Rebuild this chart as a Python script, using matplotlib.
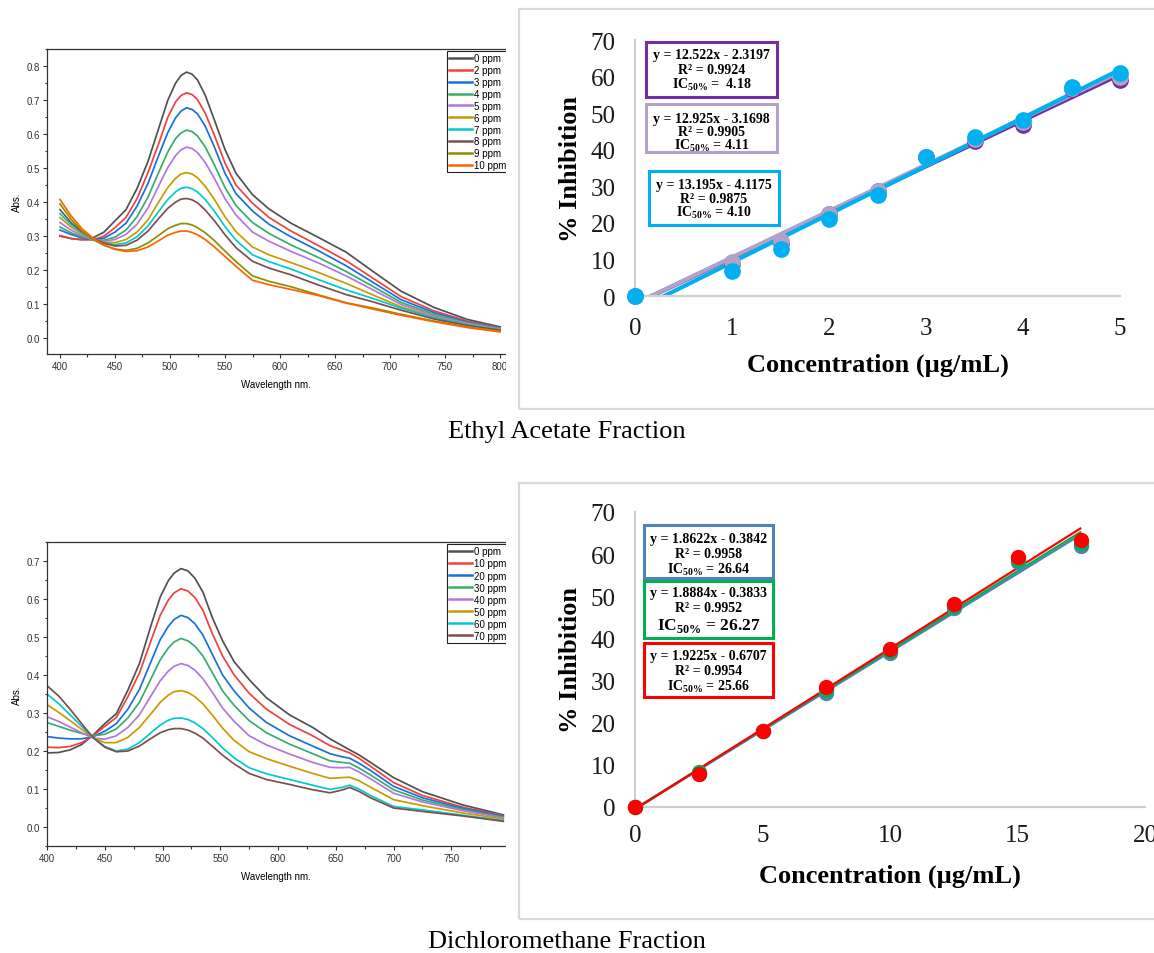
import numpy as np
import matplotlib
matplotlib.use('Agg')
import matplotlib.pyplot as plt
from matplotlib.patches import Rectangle
from matplotlib.ticker import MultipleLocator

plt.rcParams['mathtext.fontset'] = 'custom'
plt.rcParams['mathtext.rm'] = 'Liberation Serif'
plt.rcParams['mathtext.bf'] = 'Liberation Serif:bold'

# ---------------- data: Ethyl acetate UV-Vis spectra ----------------
ea_wl = [400, 410, 420, 430, 440, 450, 460, 470, 480, 490, 498, 505, 510, 515, 520,
         525, 532, 540, 550, 560, 575, 590, 610, 635, 660, 685, 710, 740, 770, 800]
ea_labels = ['0 ppm', '2 ppm', '3 ppm', '4 ppm', '5 ppm', '6 ppm', '7 ppm',
             '8 ppm', '9 ppm', '10 ppm']
ea_0 = [0.300, 0.293, 0.290, 0.295, 0.312, 0.345, 0.378, 0.440, 0.520, 0.620, 0.700, 0.750, 0.773, 0.783, 0.777, 0.760, 0.715, 0.645, 0.555, 0.485, 0.422, 0.380, 0.338, 0.296, 0.253, 0.195, 0.138, 0.090, 0.055, 0.033]
ea_2 = [0.302, 0.293, 0.289, 0.289, 0.300, 0.325, 0.355, 0.410, 0.487, 0.575, 0.650, 0.695, 0.714, 0.722, 0.717, 0.702, 0.662, 0.600, 0.515, 0.450, 0.397, 0.355, 0.315, 0.272, 0.228, 0.175, 0.122, 0.080, 0.050, 0.030]
ea_3 = [0.318, 0.305, 0.295, 0.290, 0.294, 0.312, 0.338, 0.388, 0.455, 0.540, 0.605, 0.648, 0.668, 0.678, 0.673, 0.660, 0.624, 0.565, 0.485, 0.425, 0.374, 0.335, 0.298, 0.257, 0.213, 0.163, 0.113, 0.075, 0.047, 0.029]
ea_4 = [0.327, 0.310, 0.298, 0.290, 0.288, 0.297, 0.318, 0.357, 0.415, 0.490, 0.548, 0.587, 0.604, 0.612, 0.608, 0.595, 0.563, 0.512, 0.443, 0.390, 0.340, 0.308, 0.274, 0.237, 0.196, 0.151, 0.105, 0.070, 0.045, 0.028]
ea_5 = [0.340, 0.318, 0.302, 0.290, 0.285, 0.290, 0.305, 0.335, 0.383, 0.450, 0.502, 0.537, 0.554, 0.562, 0.558, 0.546, 0.517, 0.472, 0.410, 0.362, 0.312, 0.285, 0.255, 0.221, 0.183, 0.141, 0.099, 0.066, 0.043, 0.027]
ea_6 = [0.355, 0.327, 0.307, 0.292, 0.282, 0.281, 0.290, 0.312, 0.348, 0.402, 0.443, 0.470, 0.483, 0.487, 0.483, 0.472, 0.447, 0.410, 0.357, 0.313, 0.268, 0.245, 0.222, 0.193, 0.161, 0.126, 0.092, 0.062, 0.040, 0.025]
ea_7 = [0.366, 0.334, 0.310, 0.292, 0.280, 0.275, 0.280, 0.298, 0.330, 0.374, 0.408, 0.430, 0.441, 0.444, 0.440, 0.430, 0.408, 0.375, 0.328, 0.288, 0.245, 0.225, 0.203, 0.172, 0.142, 0.116, 0.088, 0.060, 0.039, 0.024]
ea_8 = [0.378, 0.340, 0.313, 0.293, 0.279, 0.271, 0.273, 0.288, 0.315, 0.353, 0.382, 0.400, 0.409, 0.411, 0.407, 0.398, 0.377, 0.347, 0.304, 0.266, 0.226, 0.206, 0.186, 0.156, 0.128, 0.106, 0.082, 0.056, 0.037, 0.023]
ea_9 = [0.395, 0.350, 0.315, 0.290, 0.273, 0.262, 0.258, 0.264, 0.280, 0.303, 0.322, 0.332, 0.337, 0.337, 0.333, 0.325, 0.310, 0.288, 0.256, 0.225, 0.183, 0.167, 0.151, 0.127, 0.104, 0.088, 0.070, 0.050, 0.033, 0.020]
ea_10 = [0.408, 0.360, 0.322, 0.294, 0.274, 0.261, 0.255, 0.257, 0.268, 0.287, 0.303, 0.311, 0.315, 0.315, 0.311, 0.304, 0.290, 0.269, 0.240, 0.211, 0.170, 0.157, 0.143, 0.125, 0.103, 0.085, 0.067, 0.048, 0.031, 0.018]

# ---------------- data: Dichloromethane UV-Vis spectra ----------------
dcm_wl = [400, 410, 420, 430, 440, 450, 460, 470, 480, 490, 498, 505, 510, 516, 522,
          528, 535, 543, 552, 562, 575, 590, 610, 630, 645, 655, 662, 670, 680, 700,
          725, 760, 795]
dcm_labels = ['0 ppm', '10 ppm', '20 ppm', '30 ppm', '40 ppm', '50 ppm',
              '60 ppm', '70 ppm']
dcm_0 = [0.195, 0.196, 0.203, 0.217, 0.242, 0.272, 0.298, 0.360, 0.430, 0.530, 0.605, 0.648, 0.668, 0.680, 0.674, 0.655, 0.618, 0.552, 0.490, 0.435, 0.388, 0.340, 0.295, 0.262, 0.232, 0.215, 0.203, 0.190, 0.170, 0.130, 0.093, 0.058, 0.032]
dcm_10 = [0.210, 0.209, 0.212, 0.222, 0.240, 0.265, 0.288, 0.343, 0.405, 0.490, 0.557, 0.597, 0.616, 0.627, 0.621, 0.604, 0.570, 0.510, 0.450, 0.400, 0.352, 0.310, 0.270, 0.240, 0.214, 0.203, 0.195, 0.181, 0.160, 0.117, 0.083, 0.052, 0.030]
dcm_20 = [0.238, 0.234, 0.232, 0.232, 0.238, 0.252, 0.272, 0.310, 0.362, 0.435, 0.493, 0.528, 0.546, 0.557, 0.551, 0.535, 0.505, 0.455, 0.400, 0.358, 0.313, 0.275, 0.240, 0.213, 0.193, 0.185, 0.181, 0.168, 0.149, 0.107, 0.077, 0.049, 0.028]
dcm_30 = [0.275, 0.265, 0.255, 0.246, 0.240, 0.244, 0.258, 0.287, 0.328, 0.390, 0.440, 0.471, 0.487, 0.496, 0.490, 0.476, 0.450, 0.407, 0.358, 0.320, 0.280, 0.248, 0.218, 0.193, 0.174, 0.170, 0.168, 0.155, 0.137, 0.098, 0.071, 0.046, 0.026]
dcm_40 = [0.290, 0.278, 0.263, 0.248, 0.234, 0.231, 0.240, 0.262, 0.295, 0.345, 0.385, 0.410, 0.423, 0.430, 0.425, 0.413, 0.390, 0.355, 0.313, 0.278, 0.240, 0.216, 0.192, 0.170, 0.157, 0.156, 0.157, 0.145, 0.127, 0.089, 0.066, 0.043, 0.024]
dcm_50 = [0.322, 0.302, 0.280, 0.257, 0.235, 0.222, 0.222, 0.236, 0.262, 0.298, 0.328, 0.347, 0.356, 0.359, 0.354, 0.343, 0.324, 0.295, 0.260, 0.228, 0.198, 0.180, 0.160, 0.141, 0.128, 0.130, 0.131, 0.122, 0.105, 0.072, 0.056, 0.037, 0.021]
dcm_60 = [0.350, 0.325, 0.295, 0.265, 0.235, 0.212, 0.200, 0.205, 0.222, 0.248, 0.268, 0.281, 0.286, 0.287, 0.283, 0.274, 0.259, 0.236, 0.208, 0.182, 0.156, 0.140, 0.125, 0.110, 0.099, 0.104, 0.110, 0.100, 0.083, 0.054, 0.045, 0.031, 0.017]
dcm_70 = [0.372, 0.345, 0.310, 0.272, 0.235, 0.210, 0.198, 0.200, 0.213, 0.233, 0.248, 0.256, 0.259, 0.259, 0.255, 0.247, 0.234, 0.213, 0.189, 0.166, 0.141, 0.125, 0.112, 0.098, 0.090, 0.097, 0.104, 0.094, 0.077, 0.050, 0.041, 0.029, 0.015]

spec_colors = ['#515151', '#F14040', '#1A6FDF', '#37AD6B', '#B177DE',
               '#CC9900', '#00CBCC', '#7D4E4E', '#8E8E00', '#FB6501']

# ---------------- data: % inhibition ----------------
ea_conc = [0, 1, 1.5, 2, 2.5, 3, 3.5, 4, 4.5, 5]
ea_inh_a = [0, 8.7, 14.6, 22.4, 28.6, 38.0, 42.5, 46.7, 56.5, 59.0]
ea_inh_b = [0, 9.3, 15.0, 22.5, 28.8, 38.0, 43.0, 47.5, 57.0, 60.0]
ea_inh_c = [0, 6.9, 12.8, 21.1, 27.6, 38.0, 43.5, 48.0, 57.2, 60.9]
ea_colors = ['#7030A0', '#B3A2C7', '#00B0F0']
ea_eq = ['y = 12.522x - 2.3197', 'y = 12.925x - 3.1698', 'y = 13.195x - 4.1175']
ea_r2 = ['0.9924', '0.9905', '0.9875']
ea_ic = ['=  4.18', '= 4.11', '= 4.10']

dcm_conc = [0, 2.5, 5, 7.5, 10, 12.5, 15, 17.5]
dcm_inh_a = [0, 7.8, 18.0, 27.1, 36.6, 47.2, 58.2, 61.9]
dcm_inh_b = [0, 8.2, 18.0, 27.8, 37.0, 47.6, 58.6, 62.6]
dcm_inh_c = [0, 7.8, 18.0, 28.5, 37.4, 48.2, 59.4, 63.4]
dcm_colors = ['#4F81BD', '#00B050', '#FF0000']
dcm_eq = ['y = 1.8622x - 0.3842', 'y = 1.8884x - 0.3833', 'y = 1.9225x - 0.6707']
dcm_r2 = ['0.9958', '0.9952', '0.9954']
dcm_ic = ['= 26.64', '= 26.27', '= 25.66']

captions = ['Ethyl Acetate Fraction', 'Dichloromethane Fraction']

# ---------------- figure ----------------
W, H = 1154, 954
fig = plt.figure(figsize=(W / 100, H / 100), dpi=100)


def frect(x0, y0, x1, y1):
    return [x0 / W, 1 - y1 / H, (x1 - x0) / W, (y1 - y0) / H]


def fx(x):
    return x / W


def fy(y):
    return 1 - y / H


SANS = 'Liberation Sans'
SERIF = 'Liberation Serif'


def spectra(rect, wl, series, labels, xlim, ylim, xticks, yticks, leg_xy, lspace):
    ax = fig.add_axes(rect)
    for vals, lab, c in zip(series, labels, spec_colors):
        ax.plot(wl, vals, color=c, lw=1.25, label=lab, solid_joinstyle='round')
    ax.set_xlim(*xlim)
    ax.set_ylim(*ylim)
    ax.set_xticks(xticks)
    ax.set_yticks(yticks)
    ax.xaxis.set_minor_locator(MultipleLocator(25))
    ax.yaxis.set_minor_locator(MultipleLocator(0.05))
    ax.set_yticklabels(['%.1f' % t for t in yticks])
    ax.tick_params(which='both', direction='out', width=0.8, colors='#333333',
                   labelsize=7, pad=2)
    ax.tick_params(which='major', length=3)
    ax.tick_params(which='minor', length=1.8)
    for lab in ax.get_xticklabels() + ax.get_yticklabels():
        lab.set_family(SANS)
    for s in ['left', 'bottom', 'top']:
        ax.spines[s].set_color('#333333')
        ax.spines[s].set_linewidth(0.9)
    ax.spines['right'].set_visible(False)
    ax.set_ylabel('Abs.', family=SANS, fontsize=7, labelpad=3)
    ax.set_xlabel('Wavelength nm.', family=SANS, fontsize=7, labelpad=6)
    leg = ax.legend(loc='upper left', bbox_to_anchor=(fx(leg_xy[0]), fy(leg_xy[1])),
                    bbox_transform=fig.transFigure, prop={'family': SANS, 'size': 7},
                    frameon=True, fancybox=False, framealpha=1, edgecolor='#222222',
                    borderpad=0.25, handlelength=2.3, handletextpad=0.2,
                    labelspacing=lspace, borderaxespad=0)
    leg.get_frame().set_linewidth(0.8)
    for h in leg.get_lines():
        h.set_linewidth(1.8)
    return ax


spectra(frect(47, 50, 505, 355), ea_wl,
        [ea_0, ea_2, ea_3, ea_4, ea_5, ea_6, ea_7, ea_8, ea_9, ea_10], ea_labels,
        (388.2, 804.5), (-0.047, 0.851), [400, 450, 500, 550, 600, 650, 700, 750, 800],
        [0.0, 0.1, 0.2, 0.3, 0.4, 0.5, 0.6, 0.7, 0.8], (447, 52), 0.19)

spectra(frect(47, 543, 505, 847), dcm_wl,
        [dcm_0, dcm_10, dcm_20, dcm_30, dcm_40, dcm_50, dcm_60, dcm_70], dcm_labels,
        (400, 796.5), (-0.05, 0.75), [400, 450, 500, 550, 600, 650, 700, 750],
        [0.0, 0.1, 0.2, 0.3, 0.4, 0.5, 0.6, 0.7], (447, 545), 0.21)

# crop effect at right of spectra panels
for (y0, y1) in [(30, 400), (525, 900)]:
    fig.add_artist(Rectangle((fx(506), fy(y1)), (518 - 506) / W, (y1 - y0) / H,
                             transform=fig.transFigure, fc='white', ec='none', zorder=20))

# frames of the inhibition panels
for (y0, y1) in [(10, 410), (484, 920)]:
    fig.add_artist(Rectangle((fx(519), fy(y1)), (1170 - 519) / W, (y1 - y0) / H,
                             transform=fig.transFigure, fc='none', ec='#d9d9d9',
                             lw=1.6, zorder=21))


def inhibition(rect, conc, ys, colors, xlim, xticks, lw, ms, xpad, xlpad):
    ax = fig.add_axes(rect)
    for y, c in zip(ys, colors):
        m, b = np.polyfit(conc, y, 1)
        xx = np.array([conc[0], conc[-1]])
        ax.plot(xx, m * xx + b, color=c, lw=lw, zorder=2, solid_capstyle='butt')
    for y, c in zip(ys, colors):
        ax.plot(conc, y, 'o', color=c, ms=ms, mec=c, zorder=3, clip_on=False)
    ax.set_xlim(*xlim)
    ax.set_ylim(0, 70)
    ax.set_xticks(xticks)
    ax.set_yticks(range(0, 80, 10))
    ax.tick_params(length=0, labelsize=18, colors='#1a1a1a')
    ax.tick_params(axis='y', pad=14)
    ax.tick_params(axis='x', pad=xpad)
    for lab in ax.get_xticklabels() + ax.get_yticklabels():
        lab.set_family(SERIF)
    for s in ['top', 'right']:
        ax.spines[s].set_visible(False)
    for s in ['left', 'bottom']:
        ax.spines[s].set_color('#d0d0d0')
        ax.spines[s].set_linewidth(1.6)
    ax.set_ylabel('% Inhibition', family=SERIF, weight='bold', fontsize=19, labelpad=6)
    ax.set_xlabel('Concentration (µg/mL)', family=SERIF, weight='bold', fontsize=19,
                  labelpad=xlpad)
    ax.patch.set_alpha(0)
    return ax


inhibition(frect(635, 41, 1120, 297), ea_conc, [ea_inh_a, ea_inh_b, ea_inh_c],
           ea_colors, (0, 5), [0, 1, 2, 3, 4, 5], 3.0, 11, 15, 10)
inhibition(frect(635, 513, 1145, 808), dcm_conc, [dcm_inh_a, dcm_inh_b, dcm_inh_c],
           dcm_colors, (0, 20), [0, 5, 10, 15, 20], 1.6, 10, 12, 13)


def eq_box(box, color, lines, ys, sizes, lw):
    x0, y0, x1, y1 = box
    fig.add_artist(Rectangle((fx(x0), fy(y1)), (x1 - x0) / W, (y1 - y0) / H,
                             transform=fig.transFigure, fc='white', ec=color,
                             lw=lw, zorder=22))
    xc = (x0 + x1) / 2
    for t, y, s in zip(lines, ys, sizes):
        fig.text(fx(xc), fy(y), t, ha='center', va='center', family=SERIF,
                 weight='bold', fontsize=s, zorder=23)


ea_boxes = [(646, 43, 777, 98), (646, 105, 777, 153), (649, 172, 779, 226)]
ea_line_y = [(56, 71, 85), (119, 133, 146), (185, 199.5, 213)]
for i in range(3):
    eq_box(ea_boxes[i], ea_colors[i],
           [ea_eq[i], 'R² = ' + ea_r2[i], r'IC$_{\mathbf{50\%}}$ ' + ea_ic[i]],
           ea_line_y[i], (10, 10, 10), 2.2)

dcm_boxes = [(644, 526, 773, 579), (644, 582, 773, 639), (644, 644, 773, 698)]
dcm_line_y = [(540, 555, 570), (593, 608, 626), (657, 672, 687)]
dcm_sizes = [(10, 10, 10), (10, 10, 12.5), (10, 10, 10)]
for i in range(3):
    eq_box(dcm_boxes[i], dcm_colors[i],
           [dcm_eq[i], 'R² = ' + dcm_r2[i], r'IC$_{\mathbf{50\%}}$ ' + dcm_ic[i]],
           dcm_line_y[i], dcm_sizes[i], 2.2)

fig.text(fx(567), fy(432), captions[0], ha='center', va='center', family=SERIF,
         fontsize=19)
fig.text(fx(567), fy(942), captions[1], ha='center', va='center', family=SERIF,
         fontsize=19)

fig.savefig('out.png', dpi=100)
